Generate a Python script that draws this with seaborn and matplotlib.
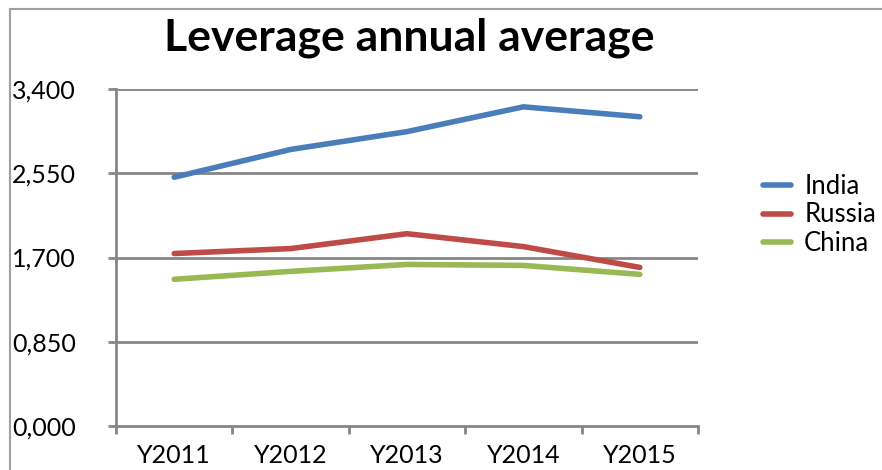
import seaborn as sns
import matplotlib.pyplot as plt
import pandas as pd
from matplotlib.lines import Line2D
from matplotlib.ticker import FixedLocator, FuncFormatter

# Dados
years = ['Y2011', 'Y2012', 'Y2013', 'Y2014', 'Y2015']
india = [2.51, 2.79, 2.97, 3.22, 3.12]
russia = [1.74, 1.79, 1.94, 1.81, 1.60]
china = [1.48, 1.56, 1.63, 1.62, 1.53]
series_names = ['India', 'Russia', 'China']
colors = ['#4A7EBB', '#BE4B48', '#98B954']
y_ticks = [0.0, 0.85, 1.7, 2.55, 3.4]

df = pd.DataFrame({'year': years, 'India': india, 'Russia': russia, 'China': china})
df_long = df.melt(id_vars='year', var_name='country', value_name='value')
df_long['pos'] = df_long['year'].map({y: i for i, y in enumerate(years)})

sns.set_style('white')
plt.rcParams['font.family'] = ['Lato', 'DejaVu Sans']
plt.rcParams['text.color'] = 'black'

fig = plt.figure(figsize=(8.82, 4.70), dpi=100)
ax = fig.add_axes([116 / 882, 1 - 426 / 470, 582 / 882, 337 / 470])

sns.lineplot(data=df_long, x='pos', y='value', hue='country',
             hue_order=series_names, palette=colors, linewidth=4,
             ax=ax, legend=True)

ax.set_xlim(-0.5, 4.5)
ax.set_ylim(0, 3.4)
ax.set_xlabel('')
ax.set_ylabel('')

# Grade horizontal e eixos
grid_color = '#868686'
ax.yaxis.set_major_locator(FixedLocator(y_ticks))
ax.yaxis.set_major_formatter(FuncFormatter(lambda v, p: f'{v:.3f}'.replace('.', ',')))
for v in y_ticks[1:]:
    ax.axhline(v, color=grid_color, linewidth=2, zorder=0)
for s in ['top', 'right']:
    ax.spines[s].set_visible(False)
for s in ['left', 'bottom']:
    ax.spines[s].set_color(grid_color)
    ax.spines[s].set_linewidth(2)

ax.set_xticks(range(len(years)))
ax.set_xticklabels(years)
ax.set_xticks([i - 0.5 for i in range(len(years) + 1)], minor=True)
ax.tick_params(axis='x', which='major', length=0, pad=13, labelsize=18, labelcolor='black')
ax.tick_params(axis='x', which='minor', length=6, width=2, color=grid_color, direction='out', bottom=True)
ax.tick_params(axis='y', which='major', length=6, width=2, color=grid_color, direction='out',
               left=True, pad=23, labelsize=18, labelcolor='black')

# Título
fig.text(409 / 882, 1 - 38 / 470, 'Leverage annual average', ha='center', va='center',
         fontsize=32, fontweight='bold', color='black')

# Legenda
handles, labels = ax.get_legend_handles_labels()
leg = ax.legend(handles, labels, loc='center left', bbox_to_anchor=(740 / 882, 1 - 215 / 470),
                bbox_transform=fig.transFigure, frameon=False, fontsize=18.5,
                handlelength=1.1, handletextpad=0.5, labelspacing=0.15)
for t in leg.get_texts():
    t.set_color('black')

# Moldura da figura
fig.add_artist(Line2D([10 / 882, 1], [1 - 9 / 470, 1 - 9 / 470], color='#a0a0a0', linewidth=1.5))
fig.add_artist(Line2D([10 / 882, 10 / 882], [0, 1 - 9 / 470], color='#a0a0a0', linewidth=1.5))

fig.savefig('out.png', dpi=100)
